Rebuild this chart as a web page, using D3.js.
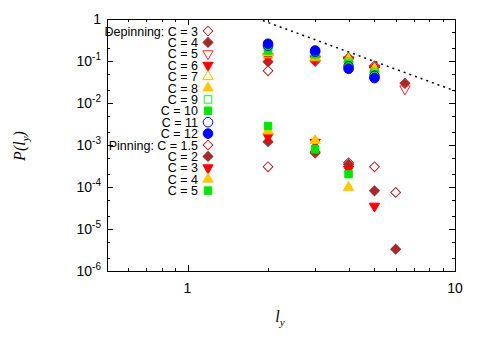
<!DOCTYPE html>
<html>
<head>
<meta charset="utf-8">
<script src="https://cdn.jsdelivr.net/npm/d3@7"></script>
<style>
  body { margin: 0; background: #fff; }
  text { font-family: "Liberation Sans", Arial, sans-serif; }
  text.title { font-family: "Liberation Serif", "Times New Roman", serif; font-style: italic; }
</style>
</head>
<body>
<script>
// chart size
var w = 485, h = 339;
var boxL = 107, boxR = 455, boxT = 19, boxB = 271;

// l_y values of each group
var depL = [2, 3, 4, 5];
var pinL = [2, 3, 4, 5, 6];

// Depinning series, P(l_y) at depL
var depC3  = [0.0584, 0.0985, 0.1192, 0.0768];
var depC4  = [0.0957, 0.1039, 0.1128, 0.0707];
var depC5  = [0.1192, 0.1068, 0.1068, 0.0651];
var depC6  = [0.1260, 0.1128, 0.1039, 0.0617];
var depC7  = [0.1406, 0.1192, 0.1098, 0.0651];
var depC8  = [0.1569, 0.1260, 0.1068, 0.0617];
var depC9  = [0.1751, 0.1406, 0.0957, 0.0553];
var depC10 = [0.1851, 0.1485, 0.0857, 0.0495];
var depC11 = [0.2306, 0.1658, 0.0747, 0.0443];
var depC12 = [0.2574, 0.1781, 0.0651, 0.0391];
// the extra points at l_y = 6.5
var depTailL = 6.5;
var depTailC4 = 0.0294;
var depTailC5 = 0.0217;

// Pinning series, P(l_y) at pinL
var pinC15 = [3.03e-4, 6.44e-4, 3.78e-4, 3.03e-4, 7.43e-5];
var pinC2  = [1.20e-3, 6.81e-4, 3.46e-4, 8.11e-5, 3.30e-6];
var pinC3  = [1.58e-3, 1.16e-3, 2.67e-4, 3.50e-5];
var pinC4  = [2.16e-3, 1.27e-3, 9.78e-5];
var pinC5  = [2.84e-3, 7.89e-4, 2.03e-4];

// guide line P = A * l^-k
var lineA = 4.15, lineK = 2.33;

var xTicks = [1, 10];
var yTicks = [1, 1e-1, 1e-2, 1e-3, 1e-4, 1e-5, 1e-6];

function pts(ls, ps) { return ps.map(function (p, i) { return [ls[i], p]; }); }

var series = [
  { label: "Depinning: C = 3", shape: "diamond", fill: false, color: "#b22222", data: pts(depL, depC3) },
  { label: "C = 4", shape: "diamond", fill: true, color: "#a52a2a", data: pts(depL, depC4).concat([[depTailL, depTailC4]]) },
  { label: "C = 5", shape: "down", fill: false, color: "#ff2020", data: pts(depL, depC5).concat([[depTailL, depTailC5]]) },
  { label: "C = 6", shape: "down", fill: true, color: "#ff0000", data: pts(depL, depC6) },
  { label: "C = 7", shape: "up", fill: false, color: "#ffc000", data: pts(depL, depC7) },
  { label: "C = 8", shape: "up", fill: true, color: "#ffc800", data: pts(depL, depC8) },
  { label: "C = 9", shape: "square", fill: false, color: "#22ee22", data: pts(depL, depC9) },
  { label: "C = 10", shape: "square", fill: true, color: "#00e600", data: pts(depL, depC10) },
  { label: "C = 11", shape: "circle", fill: false, color: "#0000ff", data: pts(depL, depC11) },
  { label: "C = 12", shape: "circle", fill: true, color: "#0000ff", data: pts(depL, depC12) },
  { label: "Pinning: C = 1.5", shape: "diamond", fill: false, color: "#b22222", data: pts(pinL, pinC15) },
  { label: "C = 2", shape: "diamond", fill: true, color: "#a52a2a", data: pts(pinL, pinC2) },
  { label: "C = 3", shape: "down", fill: true, color: "#ff0000", data: pts(pinL, pinC3) },
  { label: "C = 4", shape: "up", fill: true, color: "#ffc800", data: pts(pinL, pinC4) },
  { label: "C = 5", shape: "square", fill: true, color: "#00e600", data: pts(pinL, pinC5) }
];

var x = d3.scaleLog().domain([0.5, 10]).range([boxL, boxR]);
var y = d3.scaleLog().domain([1e-6, 1]).range([boxB, boxT]);

var svg = d3.select("body").append("svg").attr("width", w).attr("height", h);

// marker shapes
var shapes = {
  diamond: { type: d3.symbolSquare, size: 48, rot: 45 },
  down: { type: d3.symbolTriangle, size: 46, rot: 180 },
  up: { type: d3.symbolTriangle, size: 46, rot: 0 },
  square: { type: d3.symbolSquare, size: 56, rot: 0 },
  circle: { type: d3.symbolCircle, size: 72, rot: 0 }
};
function marker(sel, s, cx, cy) {
  var sh = shapes[s.shape];
  sel.append("path")
    .attr("d", d3.symbol().type(sh.type).size(sh.size)())
    .attr("transform", "translate(" + cx + "," + cy + ") rotate(" + sh.rot + ")")
    .attr("fill", s.fill ? s.color : "none")
    .attr("stroke", s.color)
    .attr("stroke-width", 1);
}

// ticks (inside, on all four sides)
var tickG = svg.append("g").attr("stroke", "#000").attr("stroke-width", 1);
var xMinor = [];
[0.1, 1].forEach(function (d) { for (var k = 1; k < 10; k++) { var v = d * k; if (v >= 0.5 && v <= 10) xMinor.push(v); } });
xMinor.forEach(function (v) {
  var major = xTicks.indexOf(v) >= 0;
  var len = major ? 6 : 3;
  var px = Math.round(x(v)) + 0.5;
  tickG.append("line").attr("x1", px).attr("x2", px).attr("y1", boxB).attr("y2", boxB - len);
  tickG.append("line").attr("x1", px).attr("x2", px).attr("y1", boxT).attr("y2", boxT + len);
});
var yMinor = [];
for (var e = -6; e < 0; e++) { [2, 5].forEach(function (k) { yMinor.push(k * Math.pow(10, e)); }); }
yTicks.forEach(function (v) {
  var py = Math.round(y(v)) + 0.5;
  tickG.append("line").attr("x1", boxL).attr("x2", boxL + 6).attr("y1", py).attr("y2", py);
  tickG.append("line").attr("x1", boxR).attr("x2", boxR - 6).attr("y1", py).attr("y2", py);
});
yMinor.forEach(function (v) {
  var py = Math.round(y(v)) + 0.5;
  tickG.append("line").attr("x1", boxL).attr("x2", boxL + 3).attr("y1", py).attr("y2", py);
  tickG.append("line").attr("x1", boxR).attr("x2", boxR - 3).attr("y1", py).attr("y2", py);
});

// frame
svg.append("rect").attr("x", boxL + 0.5).attr("y", boxT + 0.5)
  .attr("width", boxR - boxL).attr("height", boxB - boxT)
  .attr("fill", "none").attr("stroke", "#000").attr("stroke-width", 1);

// tick labels
svg.selectAll(".xt").data(xTicks).enter().append("text")
  .attr("x", function (d) { return x(d); }).attr("y", 293)
  .attr("text-anchor", "middle").attr("font-size", 14).text(function (d) { return d; });

yTicks.forEach(function (v) {
  var t = svg.append("text").attr("x", 101).attr("y", y(v) + 5)
    .attr("text-anchor", "end").attr("font-size", 14);
  if (v === 1) { t.text("1"); return; }
  t.append("tspan").text("10");
  t.append("tspan").attr("dy", -6).attr("font-size", 10).text(Math.round(Math.log10(v)));
});

// axis titles
var xl = svg.append("text").attr("class", "title").attr("x", 280).attr("y", 322)
  .attr("text-anchor", "middle").attr("font-size", 16);
xl.append("tspan").text("l");
xl.append("tspan").attr("dy", 4).attr("font-size", 11).text("y");

var yl = svg.append("text").attr("class", "title").attr("transform", "translate(25,146) rotate(-90)")
  .attr("text-anchor", "middle").attr("font-size", 16);
yl.append("tspan").text("P(l");
yl.append("tspan").attr("dy", 4).attr("font-size", 11).text("y");
yl.append("tspan").attr("dy", -4).text(")");

// dotted guide line
svg.append("clipPath").attr("id", "box").append("rect")
  .attr("x", boxL).attr("y", boxT).attr("width", boxR - boxL).attr("height", boxB - boxT);
var lineLs = [1.5, 10];
svg.append("path")
  .attr("clip-path", "url(#box)")
  .attr("d", d3.line().x(function (d) { return x(d); }).y(function (d) { return y(lineA * Math.pow(d, -lineK)); })(lineLs))
  .attr("fill", "none").attr("stroke", "#000").attr("stroke-width", 1.5).attr("stroke-dasharray", "2,4");

// legend
var legY0 = 31, legDy = 11.4;
series.forEach(function (s, i) {
  var ly = legY0 + i * legDy;
  svg.append("text").attr("x", 198).attr("y", ly + 4.5).attr("text-anchor", "end")
    .attr("font-size", 12.5).text(s.label);
  marker(svg, s, 208, ly);
});

// data points
series.forEach(function (s) {
  var g = svg.append("g");
  s.data.forEach(function (d) { marker(g, s, x(d[0]), y(d[1])); });
});
</script>
</body>
</html>
